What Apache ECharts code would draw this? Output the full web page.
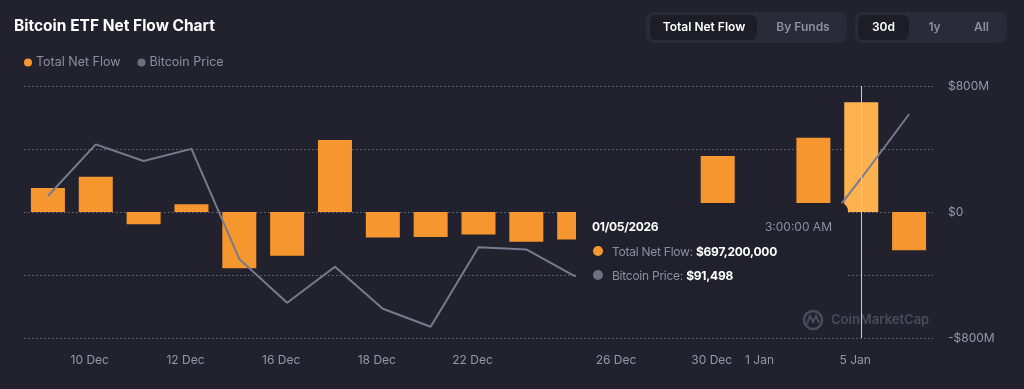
<!DOCTYPE html>
<html>
<head>
<meta charset="utf-8">
<script src="https://cdn.jsdelivr.net/npm/echarts@6/dist/echarts.min.js"></script>
<style>
html,body{margin:0;padding:0;background:#21222e;}
#chart{width:1024px;height:389px;}
</style>
</head>
<body>
<div id="chart"></div>
<script>
// ---- data ----
const categories = ['9 Dec','10 Dec','11 Dec','12 Dec','15 Dec','16 Dec','17 Dec','18 Dec','19 Dec','22 Dec','23 Dec','24 Dec','26 Dec','29 Dec','30 Dec','1 Jan','2 Jan','5 Jan','6 Jan'];
const fullDates = ['12/09/2025','12/10/2025','12/11/2025','12/12/2025','12/15/2025','12/16/2025','12/17/2025','12/18/2025','12/19/2025','12/22/2025','12/23/2025','12/24/2025','12/26/2025','12/29/2025','12/30/2025','12/31/2025','01/02/2026','01/05/2026','01/06/2026'];
const shownLabels = ['10 Dec','12 Dec','16 Dec','18 Dec','22 Dec','26 Dec','30 Dec','1 Jan','5 Jan'];
// Total net flow, millions USD
const netFlow = [151.7, 223.5, -77.3, 49.2, -357.6, -277.2, 457.3, -161.3, -158.3, -142.2, -188.6, -175.3, -275.9, -19.3, 355.1, -348.1, 471.1, 697.2, -243.2];
// Bitcoin price, USD
const btcPrice = [90630, 93150, 92340, 92930, 87560, 85420, 87180, 85130, 84250, 88130, 88020, 86730, 87300, 87100, 88200, 87700, 88480, 91498, 94620];
const yTicks = [-800, -400, 0, 400, 800];
const yLabelShown = { '-800': '-$800M', '0': '$0', '800': '$800M' };
const tooltipIndex = 17;
const tooltipTime = '3:00:00 AM';

const FONT = 'Inter, "Noto Sans", sans-serif';
const chart = echarts.init(document.getElementById('chart'));

function fmtMoney(v) { return '$' + Math.round(v).toLocaleString('en-US'); }

chart.setOption({
  backgroundColor: '#21222e',
  animation: false,
  textStyle: { fontFamily: FONT },
  title: {
    text: 'Bitcoin ETF Net Flow Chart',
    left: 14, top: 18, padding: 0,
    textStyle: { color: '#ffffff', fontSize: 15.5, fontWeight: 700, fontFamily: FONT }
  },
  legend: {
    left: 24, top: 56, padding: 0,
    icon: 'circle', itemWidth: 8, itemHeight: 8, itemGap: 17,
    textStyle: { color: '#8d8fa1', fontSize: 12.5, fontFamily: FONT, padding: [0, 0, 0, -1] },
    data: ['Total Net Flow', 'Bitcoin Price']
  },
  grid: { left: 24, right: 91, top: 86, bottom: 51 },
  tooltip: {
    trigger: 'axis',
    alwaysShowContent: true,
    transitionDuration: 0,
    position: [576, 203],
    backgroundColor: '#20212c',
    borderWidth: 0,
    padding: [12, 16, 13, 16],
    extraCssText: 'box-shadow:none;border-radius:8px;width:240px;',
    axisPointer: { type: 'line', lineStyle: { color: '#c9cad2', width: 1, type: 'solid' }, label: { show: false } },
    formatter: function (params) {
      const i = params[0].dataIndex;
      const flow = netFlow[i] * 1e6;
      const price = btcPrice[i];
      const row = (c, name, val) =>
        '<div style="height:24px;display:flex;align-items:center;font-size:12px;letter-spacing:-0.25px;color:#8d8fa1;">' +
        '<span style="display:inline-block;width:10px;height:10px;border-radius:5px;background:' + c + ';margin:0 9px 0 1px;"></span>' +
        name + ':&nbsp;<b style="color:#fff;font-weight:700;">' + val + '</b></div>';
      return '<div style="font-family:' + FONT.replace(/"/g, "'") + ';">' +
        '<div style="height:22px;display:flex;align-items:center;justify-content:space-between;margin-bottom:2px;">' +
        '<span style="color:#fff;font-weight:700;font-size:12px;letter-spacing:-0.3px;">' + fullDates[i] + '</span>' +
        '<span style="color:#8d8fa1;font-size:12px;">' + tooltipTime + '</span></div>' +
        row('#f6962e', 'Total Net Flow', fmtMoney(flow)) +
        row('#6d7082', 'Bitcoin Price', fmtMoney(price)) +
        '</div>';
    }
  },
  xAxis: {
    type: 'category',
    data: categories,
    axisLine: { show: false },
    axisTick: { show: false },
    axisLabel: {
      color: '#9698a8', fontSize: 12, margin: 16, padding: [0, 12, 0, 0],
      interval: function (idx, val) { return shownLabels.indexOf(val) >= 0; }
    }
  },
  yAxis: [
    {
      type: 'value', position: 'right',
      min: yTicks[0], max: yTicks[yTicks.length - 1], interval: 400,
      axisLine: { show: false }, axisTick: { show: false },
      splitLine: { show: true, lineStyle: { color: '#6a6c7c', type: [1.5, 2.5], width: 1 } },
      axisLabel: {
        color: '#9698a8', fontSize: 12, margin: 15,
        formatter: function (v) { return yLabelShown[String(v)] || ''; }
      }
    },
    {
      type: 'value', show: false, min: 83700, max: 96000,
      splitLine: { show: false }
    }
  ],
  series: [
    {
      name: 'Total Net Flow', type: 'bar', data: netFlow, barWidth: 34,
      itemStyle: { color: '#f6962e' },
      emphasis: { itemStyle: { color: '#fdb24f' } },
      z: 2
    },
    {
      name: 'Bitcoin Price', type: 'line', yAxisIndex: 1, data: btcPrice,
      symbol: 'none',
      lineStyle: { color: '#6d7082', width: 2 },
      itemStyle: { color: '#6d7082' },
      z: 3
    }
  ],
  graphic: [
    // segmented controls
    { type: 'rect', shape: { x: 646, y: 12, width: 201, height: 31, r: 8 }, style: { fill: '#2a2b38' } },
    { type: 'rect', shape: { x: 650, y: 15, width: 107, height: 25, r: 6 }, style: { fill: '#1c1d27' } },
    { type: 'text', x: 704, y: 27.5, style: { text: 'Total Net Flow', fill: '#ffffff', font: '600 12px ' + FONT, align: 'center', verticalAlign: 'middle' } },
    { type: 'text', x: 803, y: 27.5, style: { text: 'By Funds', fill: '#8d8fa1', font: '600 12px ' + FONT, align: 'center', verticalAlign: 'middle' } },
    { type: 'rect', shape: { x: 855, y: 12, width: 152, height: 31, r: 8 }, style: { fill: '#2a2b38' } },
    { type: 'rect', shape: { x: 858, y: 15, width: 51, height: 25, r: 6 }, style: { fill: '#1c1d27' } },
    { type: 'text', x: 883.5, y: 27.5, style: { text: '30d', fill: '#ffffff', font: '600 12px ' + FONT, align: 'center', verticalAlign: 'middle' } },
    { type: 'text', x: 934.5, y: 27.5, style: { text: '1y', fill: '#8d8fa1', font: '600 12px ' + FONT, align: 'center', verticalAlign: 'middle' } },
    { type: 'text', x: 981.5, y: 27.5, style: { text: 'All', fill: '#8d8fa1', font: '600 12px ' + FONT, align: 'center', verticalAlign: 'middle' } },
    // watermark
    { type: 'circle', shape: { cx: 813, cy: 320, r: 9 }, style: { fill: 'none', stroke: '#4a4c5c', lineWidth: 2.5 }, z: 1 },
    { type: 'polyline', shape: { points: [[807, 324], [810, 316], [813, 322], [816, 316], [819, 323]] }, style: { fill: 'none', stroke: '#4a4c5c', lineWidth: 2 }, z: 1 },
    { type: 'text', x: 831, y: 320, z: 1, style: { text: 'CoinMarketCap', fill: '#4a4c5c', font: '600 13px ' + FONT, verticalAlign: 'middle' } }
  ]
});

chart.dispatchAction({ type: 'showTip', seriesIndex: 0, dataIndex: tooltipIndex });
chart.dispatchAction({ type: 'highlight', seriesIndex: 0, dataIndex: tooltipIndex });
</script>
</body>
</html>
